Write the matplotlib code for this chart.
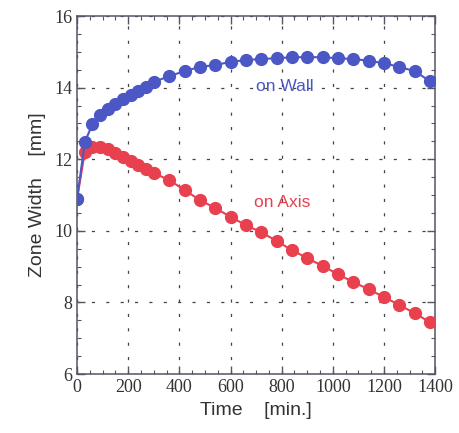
import matplotlib
matplotlib.use("Agg")
import matplotlib.pyplot as plt
from matplotlib.ticker import MultipleLocator

# sampling times [min.]
time = [0, 30, 60, 90, 120, 150, 180, 210, 240, 270, 300,
        360, 420, 480, 540, 600, 660, 720, 780, 840, 900, 960,
        1020, 1080, 1140, 1200, 1260, 1320, 1380]

wall = [10.9, 12.48, 12.98, 13.23, 13.40, 13.54, 13.68, 13.79, 13.91, 14.02, 14.16,
        14.32, 14.46, 14.58, 14.63, 14.72, 14.77, 14.80, 14.82, 14.85, 14.85, 14.85,
        14.82, 14.80, 14.75, 14.68, 14.58, 14.46, 14.18]

axis = [10.9, 12.2, 12.35, 12.35, 12.3, 12.18, 12.07, 11.96, 11.83, 11.72, 11.61,
        11.42, 11.14, 10.86, 10.64, 10.39, 10.16, 9.96, 9.72, 9.46, 9.24, 9.02,
        8.79, 8.57, 8.37, 8.15, 7.93, 7.70, 7.45]

xticks = [0, 200, 400, 600, 800, 1000, 1200, 1400]
yticks = [6, 8, 10, 12, 14, 16]

blue = "#4a57c4"
red = "#e8404f"
sans = ["Liberation Sans", "DejaVu Sans"]
serif = ["Liberation Serif", "DejaVu Serif"]

fig = plt.figure(figsize=(4.59, 4.33), dpi=100)
ax = fig.add_axes([0.168, 0.136, 0.780, 0.827])

ax.plot(time, axis, "-o", color=red, markersize=8.5, linewidth=1.5, zorder=3)
ax.plot(time, wall, "-o", color=blue, markersize=8.5, linewidth=1.5, zorder=4)

ax.text(700, 14.04, "on Wall", color=blue, fontsize=12.5, family=sans, va="center")
ax.text(692, 10.78, "on Axis", color=red, fontsize=12.5, family=sans, va="center")

ax.set_xlim(0, 1400)
ax.set_ylim(6, 16)
ax.set_xticks(xticks)
ax.set_xticklabels([str(t) for t in xticks], family=serif, fontsize=13, color="#333333")
ax.set_yticks(yticks)
ax.set_yticklabels([str(t) for t in yticks], family=serif, fontsize=13, color="#333333")
ax.xaxis.set_minor_locator(MultipleLocator(50))
ax.yaxis.set_minor_locator(MultipleLocator(0.5))
ax.tick_params(which="both", direction="in", top=True, right=True, color="#555566")
ax.tick_params(which="major", length=6, width=1)
ax.tick_params(which="minor", length=3, width=0.8)
for s in ax.spines.values():
    s.set_color("#555566")
    s.set_linewidth(1.1)

ax.grid(True, which="major", color="#444444", linestyle=(0, (2.5, 9)), linewidth=0.9)

ax.set_xlabel("Time    [min.]", family=sans, fontsize=14, color="#333333", labelpad=4)
ax.set_ylabel("Zone Width    [mm]", family=sans, fontsize=14, color="#333333", labelpad=6)

fig.savefig("out.png", dpi=100)
